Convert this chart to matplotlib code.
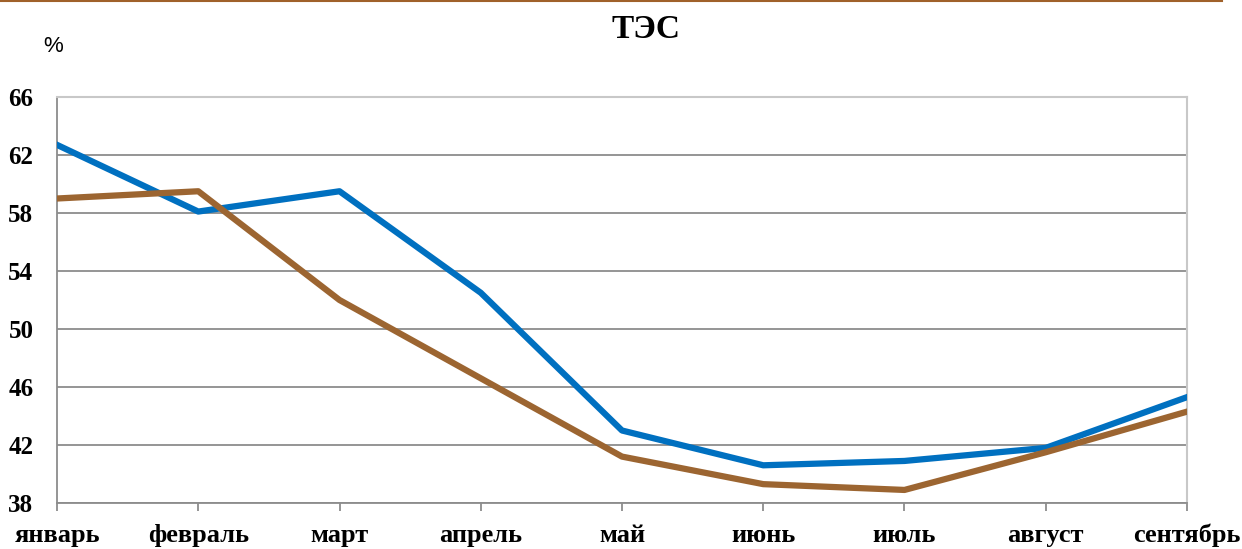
import numpy as np
import matplotlib.pyplot as plt
from matplotlib.lines import Line2D

months = ["январь", "февраль", "март", "апрель", "май", "июнь", "июль", "август", "сентябрь"]
blue_vals = [62.7, 58.1, 59.5, 52.5, 43.0, 40.6, 40.9, 41.8, 45.3]
brown_vals = [59.0, 59.5, 52.0, 46.6, 41.2, 39.3, 38.9, 41.5, 44.3]
yticks = [38, 42, 46, 50, 54, 58, 62, 66]

plt.rcParams['font.family'] = ['Liberation Serif', 'DejaVu Serif']

fig = plt.figure(figsize=(12.42, 5.49), dpi=100)
ax = fig.add_axes([0.0459, 0.0838, 0.9098, 0.7395])

x = np.arange(len(months))
ax.plot(x, blue_vals, color="#0070C0", lw=4.5, solid_joinstyle="round", zorder=3)
ax.plot(x, brown_vals, color="#9C6531", lw=4.5, solid_joinstyle="round", zorder=3)

ax.set_xlim(0, len(months) - 1)
ax.set_ylim(38, 66)
ax.set_yticks(yticks)
ax.set_yticklabels([str(v) for v in yticks], fontsize=18, fontweight="bold")
ax.set_xticks(x)
ax.set_xticklabels(months, fontsize=19, fontweight="bold")
ax.grid(axis="y", color="#8C8C8C", lw=1.3)
ax.set_axisbelow(True)

ax.tick_params(axis="y", length=0, pad=17)
ax.tick_params(axis="x", length=6, width=1.3, color="#8C8C8C", pad=9)

for s in ["left", "bottom"]:
    ax.spines[s].set_color("#8C8C8C")
    ax.spines[s].set_linewidth(1.3)
for s in ["top", "right"]:
    ax.spines[s].set_color("#C8C8C8")
    ax.spines[s].set_linewidth(1.5)

fig.text(0.52, 0.947, "ТЭС", ha="center", va="center", fontsize=24, fontweight="bold")
fig.text(0.0427, 0.915, "%", ha="center", va="center", fontsize=16, family="Liberation Sans")

fig.add_artist(Line2D([0, 0.984], [0.998, 0.998], color="#A0612A", lw=1.5, transform=fig.transFigure))

fig.savefig("out.png", dpi=100)
